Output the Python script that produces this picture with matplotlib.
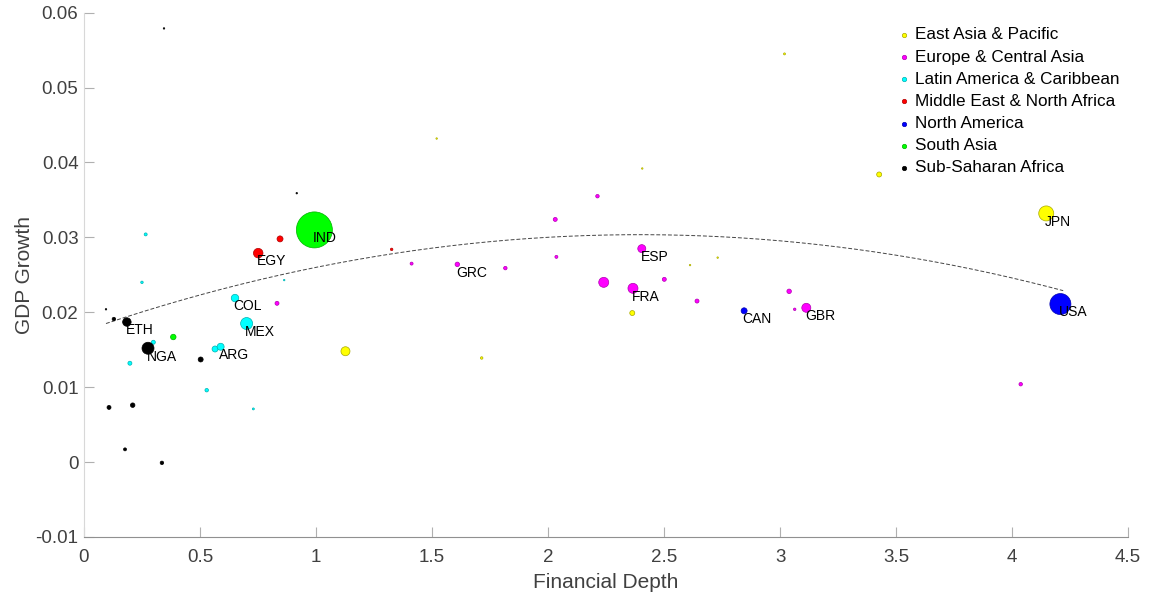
import numpy as np
import matplotlib
matplotlib.use('Agg')
import matplotlib.pyplot as plt

plt.rcParams['font.family'] = ['Liberation Sans', 'DejaVu Sans']

regions = ['East Asia & Pacific', 'Europe & Central Asia', 'Latin America & Caribbean',
           'Middle East & North Africa', 'North America', 'South Asia', 'Sub-Saharan Africa']

eap_x = [1.127, 2.363, 1.714, 3.427, 4.147, 3.019, 2.406, 1.520, 2.731, 2.612]
eap_y = [0.0148, 0.0199, 0.0139, 0.0384, 0.0332, 0.0545, 0.0392, 0.0432, 0.0273, 0.0263]
eap_s = [9, 5, 2.5, 5, 15, 2, 1.5, 1.5, 1.5, 1.5]

eca_x = [2.213, 2.031, 2.404, 2.036, 1.609, 1.412, 1.816, 2.240, 2.366, 2.501,
         2.642, 0.832, 3.039, 3.063, 3.113, 4.037]
eca_y = [0.0355, 0.0324, 0.0285, 0.0274, 0.0264, 0.0265, 0.0259, 0.0240, 0.0232, 0.0244,
         0.0215, 0.0212, 0.0228, 0.0204, 0.0206, 0.0104]
eca_s = [3.5, 4, 8, 3, 4.5, 3, 3.5, 10, 10, 4, 4, 4, 4.5, 2.5, 9, 3.5]

lac_x = [0.266, 0.250, 0.651, 0.701, 0.299, 0.198, 0.565, 0.589, 0.529, 0.730, 0.863]
lac_y = [0.0304, 0.0240, 0.0219, 0.0185, 0.0160, 0.0132, 0.0151, 0.0154, 0.0096, 0.0071, 0.0243]
lac_s = [3, 2.5, 7.5, 12, 4, 4, 6, 7, 3.5, 2, 1.5]

mena_x = [0.751, 0.845, 1.326]
mena_y = [0.0279, 0.0298, 0.0284]
mena_s = [9.5, 6, 2.5]

na_x = [2.845, 4.208]
na_y = [0.0202, 0.0211]
na_s = [6, 21]

sa_x = [0.993, 0.385]
sa_y = [0.0310, 0.0167]
sa_s = [36, 5.5]

ssa_x = [0.345, 0.917, 0.185, 0.129, 0.095, 0.276, 0.503, 0.108, 0.210, 0.177, 0.336]
ssa_y = [0.0579, 0.0359, 0.0187, 0.0191, 0.0204, 0.0152, 0.0137, 0.0073, 0.0076, 0.0017, -0.0001]
ssa_s = [1.5, 1.5, 8.5, 3.5, 1.5, 12, 5, 4, 4.5, 3, 3.5]

# labelled countries
labels = ['IND', 'EGY', 'ETH', 'NGA', 'COL', 'MEX', 'ARG', 'GRC', 'ESP', 'FRA',
          'CAN', 'GBR', 'USA', 'JPN']
label_x = [0.993, 0.751, 0.185, 0.276, 0.651, 0.701, 0.589, 1.609, 2.404, 2.366,
           2.845, 3.113, 4.208, 4.147]
label_y = [0.0310, 0.0279, 0.0187, 0.0152, 0.0219, 0.0185, 0.0154, 0.0264, 0.0285, 0.0232,
           0.0202, 0.0206, 0.0211, 0.0332]

# quadratic trend (c0, c1, c2) and its x range
fit_coef = [0.0175, 0.010743, -0.002243]
fit_range = [0.095, 4.22]

series = [(eap_x, eap_y, eap_s), (eca_x, eca_y, eca_s), (lac_x, lac_y, lac_s),
          (mena_x, mena_y, mena_s), (na_x, na_y, na_s), (sa_x, sa_y, sa_s),
          (ssa_x, ssa_y, ssa_s)]
face = ['#ffff00', '#ff00ff', '#00ffff', '#ff0000', '#0000ff', '#00ff00', '#000000']
edge = ['#a8a800', '#b000b0', '#00b0b0', '#b00000', '#0000b0', '#00b000', '#000000']

fig = plt.figure(figsize=(11.5, 5.96), dpi=100)
ax = fig.add_axes([0.073, 0.099, 0.908, 0.8797])

for (xs, ys, ss), fc, ec, name in zip(series, face, edge, regions):
    area = (np.array(ss) * 0.72) ** 2
    ax.scatter(xs, ys, s=area, c=fc, edgecolors=ec, linewidths=0.5, label=name, zorder=3)

fx = np.linspace(fit_range[0], fit_range[1], 200)
fy = np.polyval(fit_coef[::-1], fx)
ax.plot(fx, fy, color='#444444', lw=0.7, linestyle=(0, (4, 2)), zorder=2)

for t, x, y in zip(labels, label_x, label_y):
    ax.annotate(t, (x, y), xytext=(-1, -6), textcoords='offset points',
                ha='left', va='center', fontsize=10, color='black', zorder=5)

ax.set_xlim(0, 4.5)
ax.set_ylim(-0.01, 0.06)
ax.set_xticks(np.arange(0, 4.51, 0.5))
ax.set_xticklabels(['0', '0.5', '1', '1.5', '2', '2.5', '3', '3.5', '4', '4.5'])
ax.set_yticks(np.arange(-0.01, 0.0601, 0.01))
ax.set_yticklabels(['-0.01', '0', '0.01', '0.02', '0.03', '0.04', '0.05', '0.06'])
ax.tick_params(direction='in', length=7.5, width=0.8, color='#b0b0b0',
               labelsize=13.5, labelcolor='#404040')
ax.tick_params(axis='x', pad=9)
ax.tick_params(axis='y', pad=4)

for s in ['top', 'right']:
    ax.spines[s].set_visible(False)
ax.spines['left'].set_color('#d8d8d8')
ax.spines['bottom'].set_color('#909090')

ax.set_xlabel('Financial Depth', fontsize=15, color='#404040', labelpad=5)
ax.set_ylabel('GDP Growth', fontsize=15, color='#404040', labelpad=1)

leg = ax.legend(loc='upper left', bbox_to_anchor=(0.78, 0.972), frameon=False,
                fontsize=12.3, handlelength=0.6, handletextpad=0.35, labelspacing=0.42,
                borderpad=0, borderaxespad=0, scatterpoints=1)
for h in leg.legend_handles:
    h.set_sizes([10])

fig.savefig('out.png', dpi=100)
